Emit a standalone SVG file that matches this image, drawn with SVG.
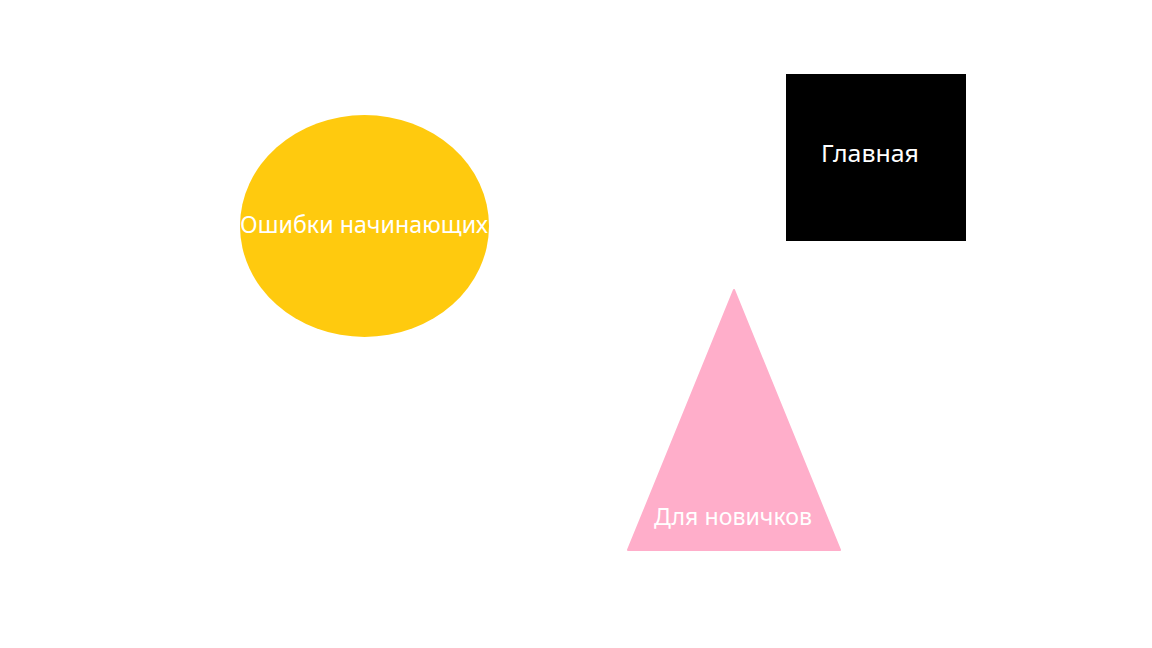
<svg xmlns="http://www.w3.org/2000/svg" width="1152" height="648" viewBox="0 0 1152 648">
<style>
.lbl{font-family:"Noto Sans","Open Sans","DejaVu Sans",sans-serif;font-size:23px;fill:#ffffff;text-anchor:middle}
</style>
<rect width="1152" height="648" fill="#ffffff"/>
<g id="node-main">
<rect x="786" y="74" width="180" height="167" fill="#000000"/>
<text class="lbl" x="870" y="162" textLength="98" lengthAdjust="spacingAndGlyphs">Главная</text>
</g>
<g id="node-errors">
<ellipse cx="364.5" cy="226" rx="124.5" ry="111" fill="#FFCA0E"/>
<text class="lbl" x="364" y="233" textLength="248" lengthAdjust="spacingAndGlyphs">Ошибки начинающих</text>
</g>
<g id="node-newbies">
<polygon points="734,290 840,550 628,550" fill="#FFAECA" stroke="#FFAECA" stroke-width="2" stroke-linejoin="round"/>
<text class="lbl" x="733" y="525" textLength="158" lengthAdjust="spacingAndGlyphs">Для новичков</text>
</g>
<g id="connectors"></g>
</svg>
